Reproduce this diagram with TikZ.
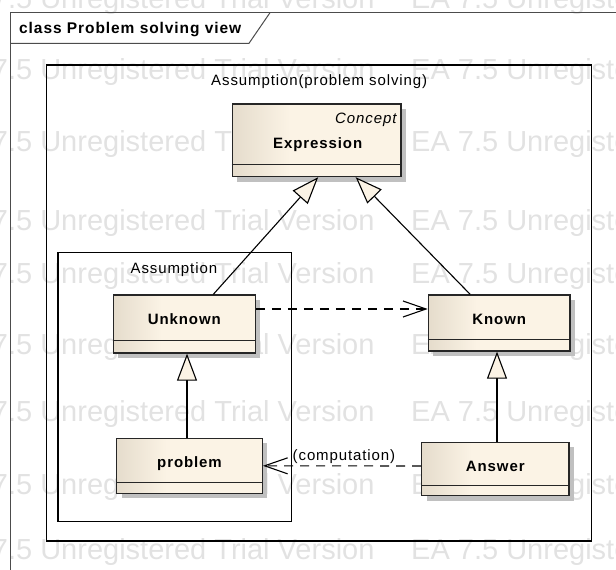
\documentclass[tikz,border=0pt]{standalone}
\usepackage{fontspec}
\setmainfont{Liberation Sans}[LetterSpace=6]
\newfontfamily\wmfont{Liberation Sans}
\usetikzlibrary{arrows.meta,shadows}
\definecolor{clsleft}{RGB}{229,220,204}
\definecolor{clsright}{RGB}{251,243,229}
\definecolor{shadowgray}{RGB}{192,192,192}
\definecolor{wmgray}{RGB}{226,226,226}
\pgfdeclarehorizontalshading{clsshade}{100bp}{color(0bp)=(clsleft); color(25bp)=(clsleft); color(42bp)=(clsright); color(100bp)=(clsright)}

\begin{document}
\begin{tikzpicture}[x=1pt,y=-1pt,
    font=\fontsize{15}{18}\selectfont,
    wm/.style={text=wmgray, font=\wmfont\fontsize{29}{34}\selectfont, anchor=base west, inner sep=0pt},
    frame/.style={draw=black!70, line width=1pt},
    pkg/.style={draw=black, line width=1.3pt, inner sep=0pt},
    cls/.style={draw=black!85, line width=1.3pt, inner sep=0pt, shading=clsshade,
      drop shadow={shadow xshift=5pt, shadow yshift=-5pt, fill=shadowgray, opacity=1}},
    clsname/.style={font=\fontsize{15}{18}\selectfont\bfseries, anchor=base},
    compart/.style={draw=black!85, line width=1.3pt},
    gen/.style={line width=1.1pt, -{Triangle[length=27pt, width=20pt, fill=clsright]}},
    dep/.style={line width=1.1pt, dash pattern=on 9pt off 7pt, -{Straight Barb[length=23pt, width=16pt]}}]

\useasboundingbox (0,0) rectangle (616,570);
\clip (0,0) rectangle (616,570);

\foreach \wy [count=\i] in {9,79,151,230,283,354,421,494,559}
  {
  \node[wm] (wma\i) at (-55,\wy) {EA 7.5 Unregistered Trial Version};
  \node[wm] (wmb\i) at (411,\wy) {EA 7.5 Unregistered Trial Version};
  }

\draw[frame] (616,12.7) -- (10.7,12.7) -- (10.7,570);
\draw[frame] (10.7,43.3) -- (249,43.3) -- (270,12.7);
\node[font=\fontsize{15.5}{18}\selectfont\bfseries, anchor=base west, inner sep=0pt] (title) at (19,33.3) {class Problem solving view};

\node[pkg, minimum width=545pt, minimum height=476pt] (probsolving) at (319.2,303) {};
\node[anchor=base] (probsolvinglabel) at ([yshift=-21]probsolving.north) {Assumption(problem solving)};
\node[pkg, minimum width=233.7pt, minimum height=269pt] (assumption) at (174.9,387.2) {};
\node[anchor=base] (assumptionlabel) at ([xshift=-1,yshift=-21.3]assumption.north) {Assumption};

\node[cls, minimum width=168.7pt, minimum height=72.5pt] (expression) at (316.7,140.3) {};
\draw[compart] ([yshift=12.5]expression.south west) -- ([yshift=12.5]expression.south east);
\node[font=\fontsize{15}{18}\selectfont\itshape, anchor=base east, inner sep=0pt] (exprstereo) at ([xshift=-5,yshift=-20]expression.north east) {Concept};
\node[clsname] (exprname) at ([xshift=1,yshift=-45]expression.north) {Expression};

\node[cls, minimum width=142pt, minimum height=58pt] (unknown) at (184.3,324) {};
\draw[compart] ([yshift=13]unknown.south west) -- ([yshift=13]unknown.south east);
\node[clsname] (unknownname) at ([yshift=-30]unknown.north) {Unknown};

\node[cls, minimum width=141.7pt, minimum height=56pt] (known) at (499.2,323) {};
\draw[compart] ([yshift=12]known.south west) -- ([yshift=12]known.south east);
\node[clsname] (knownname) at ([yshift=-30]known.north) {Known};

\node[cls, minimum width=145.6pt, minimum height=55pt] (problem) at (189.5,465.8) {};
\draw[compart] ([yshift=11.5]problem.south west) -- ([yshift=11.5]problem.south east);
\node[clsname] (problemname) at ([yshift=-30]problem.north) {problem};

\node[cls, minimum width=147.3pt, minimum height=53.4pt] (answer) at (495.3,469) {};
\draw[compart] ([yshift=11]answer.south west) -- ([yshift=11]answer.south east);
\node[clsname] (answername) at ([yshift=-29.4]answer.north) {Answer};

\draw[gen] ([xshift=29]unknown.north) -- ([xshift=1.5]expression.south);
\draw[gen] ([xshift=-29]known.north) -- ([xshift=39]expression.south);
\draw[gen] ([xshift=-2.5]problem.north) -- ([xshift=2.7]unknown.south);
\draw[gen] ([xshift=1.7]answer.north) -- ([xshift=-2.2]known.south);

\draw[dep] ([yshift=15]unknown.east) -- ([yshift=14]known.west);
\draw[dep] ([yshift=3]answer.west) -- node[above, inner sep=1.5pt, xshift=2] (complabel) {(computation)} (problem.east);

\end{tikzpicture}
\end{document}
